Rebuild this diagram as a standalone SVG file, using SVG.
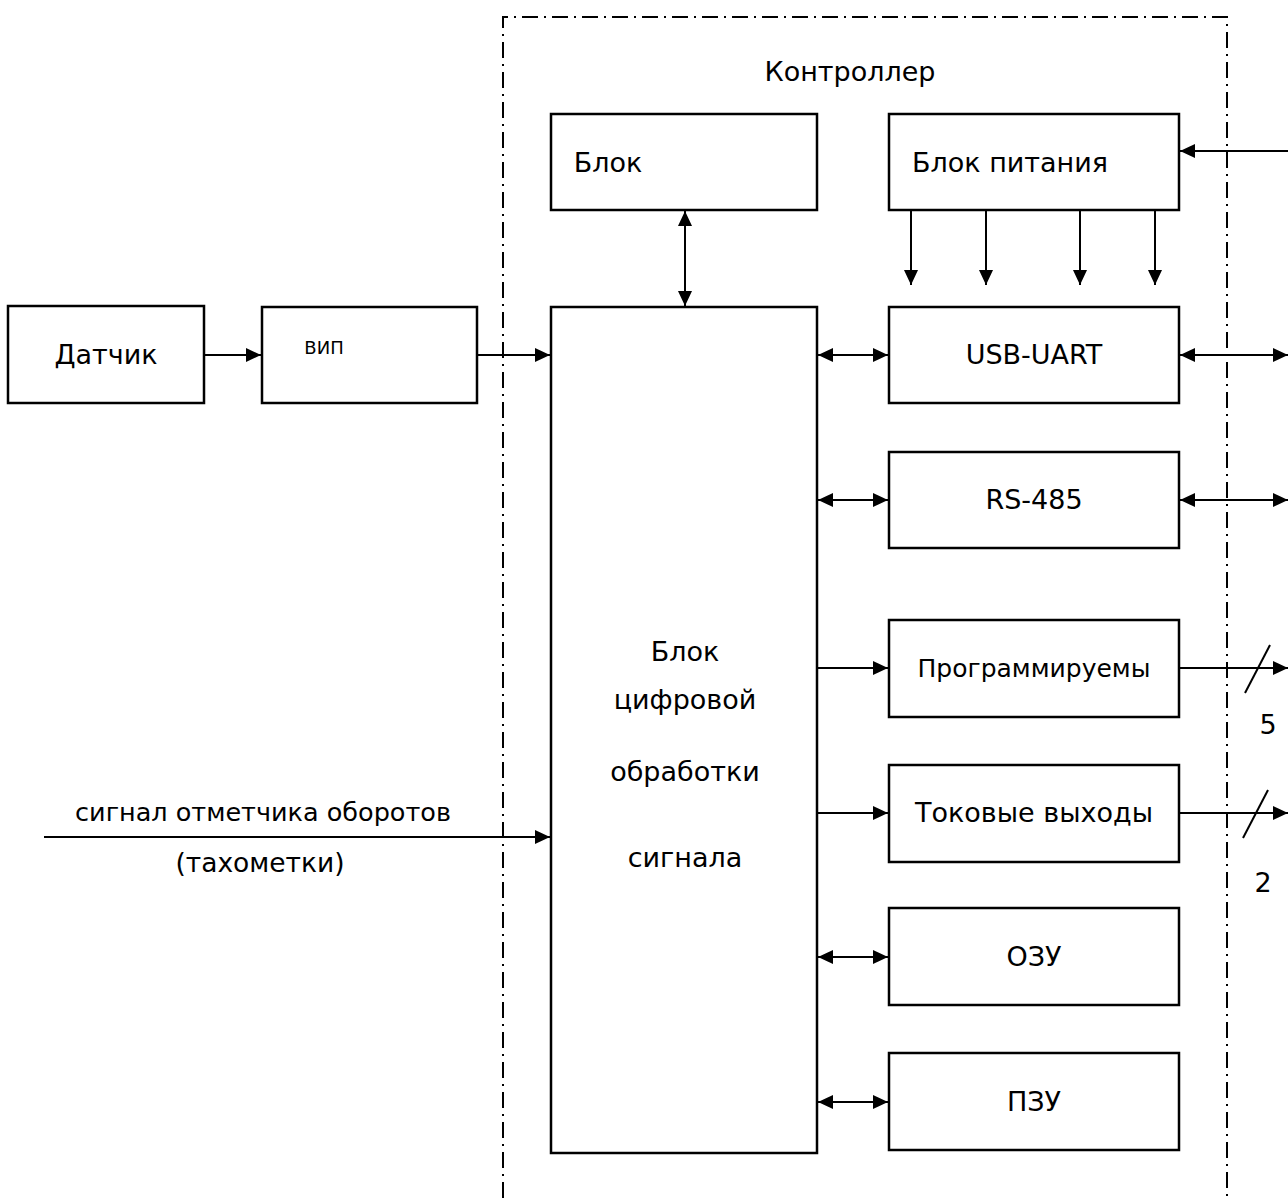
<svg xmlns="http://www.w3.org/2000/svg" width="1288" height="1198" viewBox="0 0 1288 1198">
<style>
.b{fill:#fff;stroke:#000;stroke-width:2.5}
.t{font-family:"DejaVu Sans",Verdana,sans-serif;font-size:27px;fill:#000;text-anchor:middle}
.c line{stroke:#000;stroke-width:2}
.frame{fill:none;stroke:#000;stroke-width:2;stroke-dasharray:16 6 2 6}
</style>
<defs>
<marker id="a" viewBox="0 0 15 14" refX="15" refY="7" markerWidth="15" markerHeight="14" markerUnits="userSpaceOnUse" orient="auto-start-reverse"><path d="M0,0L15,7L0,14z" fill="#000"/></marker>
</defs>
<rect fill="#fff" width="1288" height="1198"/>
<path class="frame" d="M503,1198V17H1227V1198"/>
<text class="t" x="850" y="81">Контроллер</text>
<g id="n-blok"><rect class="b" x="551" y="114" width="266" height="96"/><text class="t" x="608" y="172">Блок</text></g>
<g id="n-pit"><rect class="b" x="889" y="114" width="290" height="96"/><text class="t" x="1010" y="172">Блок питания</text></g>
<g id="n-dat"><rect class="b" x="8" y="306" width="196" height="97"/><text class="t" x="106" y="364">Датчик</text></g>
<g id="n-vip"><rect class="b" x="262" y="307" width="215" height="96"/><text class="t" x="324" y="354" style="font-size:18px">ВИП</text></g>
<g id="n-cpu"><rect class="b" x="551" y="307" width="266" height="846"/>
<text class="t" x="685" y="661">Блок</text><text class="t" x="685" y="709">цифровой</text><text class="t" x="685" y="781">обработки</text><text class="t" x="685" y="867">сигнала</text></g>
<g id="n-usb"><rect class="b" x="889" y="307" width="290" height="96"/><text class="t" x="1034" y="364">USB-UART</text></g>
<g id="n-rs"><rect class="b" x="889" y="452" width="290" height="96"/><text class="t" x="1034" y="509">RS-485</text></g>
<g id="n-prog"><rect class="b" x="889" y="620" width="290" height="97"/><text class="t" x="1034" y="677" style="font-size:25px">Программируемы</text></g>
<g id="n-tok"><rect class="b" x="889" y="765" width="290" height="97"/><text class="t" x="1034" y="822">Токовые выходы</text></g>
<g id="n-ozu"><rect class="b" x="889" y="908" width="290" height="97"/><text class="t" x="1034" y="966">ОЗУ</text></g>
<g id="n-pzu"><rect class="b" x="889" y="1053" width="290" height="97"/><text class="t" x="1034" y="1111">ПЗУ</text></g>
<text class="t" x="263" y="821" style="font-size:25.5px">сигнал отметчика оборотов</text>
<text class="t" x="260" y="872" style="font-size:26.5px">(тахометки)</text>
<text class="t" x="1268" y="734">5</text>
<text class="t" x="1263" y="892">2</text>
<g id="connectors" class="c">
<line x1="1288" y1="151" x2="1180" y2="151" marker-end="url(#a)"/>
<line x1="911" y1="210" x2="911" y2="285" marker-end="url(#a)"/>
<line x1="986" y1="210" x2="986" y2="285" marker-end="url(#a)"/>
<line x1="1080" y1="210" x2="1080" y2="285" marker-end="url(#a)"/>
<line x1="1155" y1="210" x2="1155" y2="285" marker-end="url(#a)"/>
<line x1="685" y1="211" x2="685" y2="306" marker-start="url(#a)" marker-end="url(#a)"/>
<line x1="204" y1="355" x2="261" y2="355" marker-end="url(#a)"/>
<line x1="477" y1="355" x2="550" y2="355" marker-end="url(#a)"/>
<line x1="818" y1="355" x2="888" y2="355" marker-start="url(#a)" marker-end="url(#a)"/>
<line x1="1180" y1="355" x2="1288" y2="355" marker-start="url(#a)" marker-end="url(#a)"/>
<line x1="818" y1="500" x2="888" y2="500" marker-start="url(#a)" marker-end="url(#a)"/>
<line x1="1180" y1="500" x2="1288" y2="500" marker-start="url(#a)" marker-end="url(#a)"/>
<line x1="817" y1="668" x2="888" y2="668" marker-end="url(#a)"/>
<line x1="1179" y1="668" x2="1288" y2="668" marker-end="url(#a)"/>
<line x1="1245" y1="693" x2="1270" y2="645"/>
<line x1="817" y1="813" x2="888" y2="813" marker-end="url(#a)"/>
<line x1="1179" y1="813" x2="1288" y2="813" marker-end="url(#a)"/>
<line x1="1243" y1="838" x2="1268" y2="790"/>
<line x1="818" y1="957" x2="888" y2="957" marker-start="url(#a)" marker-end="url(#a)"/>
<line x1="818" y1="1102" x2="888" y2="1102" marker-start="url(#a)" marker-end="url(#a)"/>
<line x1="44" y1="837" x2="550" y2="837" marker-end="url(#a)"/>
</g>
</svg>
